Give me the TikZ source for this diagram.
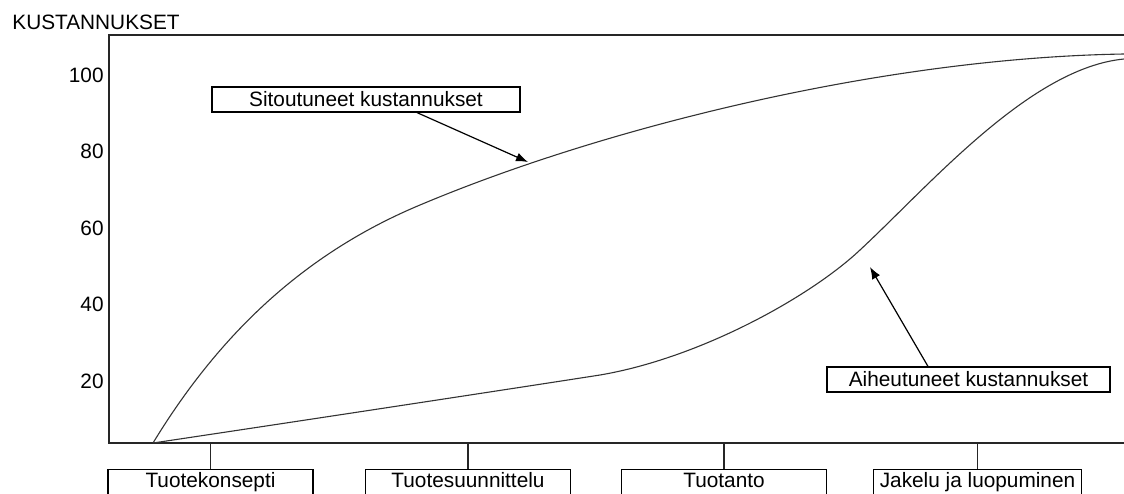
\documentclass[tikz,border=0pt]{standalone}
\usepackage{fontspec}
\setmainfont{Liberation Sans}
\usetikzlibrary{arrows.meta}
\begin{document}
\begin{tikzpicture}[x=0.5pt,y=-0.5pt,
    every node/.style={font=\fontsize{10.4}{12}\selectfont},
    axisline/.style={line width=0.6pt,draw=black!85},
    costcurve/.style={line width=0.55pt,draw=black!80},
    labelbox/.style={draw,line width=0.6pt,inner sep=0pt,minimum height=12.5pt},
    phasebox/.style={draw,line width=0.6pt,anchor=north,minimum width=102.5pt,
      inner ysep=1pt,text height=8pt,text depth=5pt},
    pointer/.style={line width=0.6pt,-{Latex[length=6pt,width=4.5pt]}}]
  \clip (0,0) rectangle (1124,493);
  \node[anchor=base west,inner sep=0pt] (ytitle) at (12,29) {KUSTANNUKSET};
  \draw[axisline] (1124,35) -- (109,35) -- (109,443) -- (1124,443);
  \coordinate (axisend) at (1124,443);
  \foreach \v/\y in {100/82,80/158.5,60/235,40/311.5,20/388}
    \node[anchor=base east,inner sep=0pt] (yval\v) at (104,\y) {\v};
  % committed costs
  \draw[costcurve] (153,443) .. controls (223,328) and (310,251) .. (420,205)
    .. controls (600,129) and (880,58) .. (1124,54);
  % incurred costs
  \draw[costcurve] (153,443) .. controls (300,421) and (510,389) .. (600,375)
    .. controls (700,358) and (810,297) .. (860,250)
    .. controls (930,185) and (1030,68) .. (1124,59);
  \node[labelbox,minimum width=154pt] (sitout) at (366,99.5) {Sitoutuneet kustannukset};
  \node[labelbox,minimum width=141.5pt] (aiheut) at (968.5,379.5) {Aiheutuneet kustannukset};
  \coordinate (sitouttip) at (528,162);
  \coordinate (aiheuttip) at (870,267);
  \draw[pointer] ([xshift=25.5pt]sitout.south) -- (sitouttip);
  \draw[pointer] ([xshift=-20.25pt]aiheut.north) -- (aiheuttip);
  \foreach \n/\x/\t in {konsepti/210.5/Tuotekonsepti,suunnittelu/468/Tuotesuunnittelu,
      tuotanto/724/Tuotanto,jakelu/977.5/Jakelu ja luopuminen}
  {
    \node[phasebox] (\n) at (\x,469) {\t};
    \draw[axisline] (\n.north) -- (\n.north |- axisend);
  }
\end{tikzpicture}
\end{document}
